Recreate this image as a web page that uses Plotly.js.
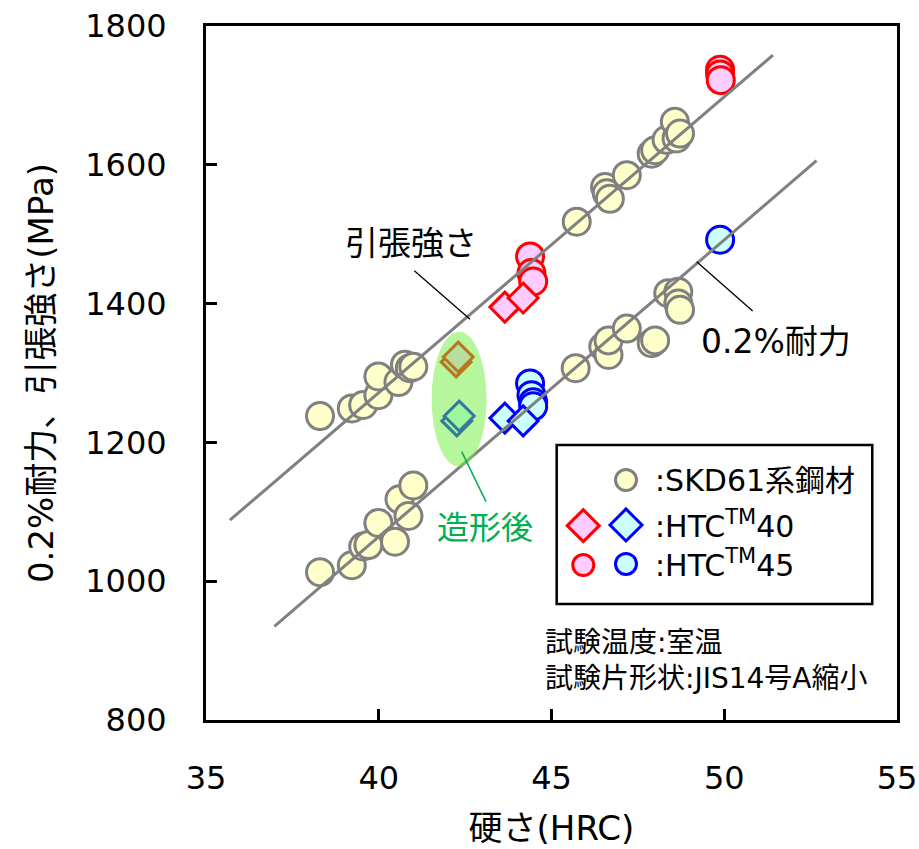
<!DOCTYPE html>
<html>
<head>
<meta charset="utf-8">
<script src="https://cdn.plot.ly/plotly-3.0.1.min.js"></script>
<style>html,body{margin:0;padding:0;background:#fff;}#chart{width:919px;height:849px;}</style>
</head>
<body>
<div id="chart"></div>
<script>
// ---- data (HRC vs MPa) ----
// SKD61-type steel, tensile strength
const skdTsX = [38.3, 39.22, 39.55, 39.99, 39.99, 40.57, 40.76, 40.9, 41.0, 45.73, 46.55, 46.6, 46.69, 47.18, 47.9, 48.0, 48.33, 48.57, 48.62, 48.72];
const skdTsY = [1238, 1249, 1254, 1268, 1295, 1287, 1312, 1307, 1309, 1518, 1568, 1559, 1551, 1585, 1616, 1621, 1636, 1662, 1638, 1645];
// SKD61-type steel, 0.2% proof stress
const skdYsX = [38.3, 39.22, 39.55, 39.7, 39.99, 40.47, 40.6, 40.86, 41.0, 45.7, 46.5, 46.65, 46.65, 47.18, 47.9, 48.0, 48.38, 48.67, 48.67, 48.72];
const skdYsY = [1013, 1023, 1050, 1052, 1084, 1057, 1118, 1094, 1138, 1307, 1338, 1326, 1347, 1364, 1343, 1347, 1415, 1417, 1400, 1391];
// HTC40
const htc40TsX = [43.65, 44.18];
const htc40TsY = [1395, 1408];
const htc40YsX = [43.65, 44.18];
const htc40YsY = [1235, 1231];
// HTC45
const htc45TsX = [44.38, 44.42, 44.47, 49.88, 49.88, 49.9];
const htc45TsY = [1468, 1444, 1432, 1737, 1730, 1722];
const htc45YsX = [44.38, 44.42, 44.47, 44.47, 49.88];
const htc45YsY = [1285, 1268, 1258, 1252, 1492];
// HTC40 as-built (造形後)
const amTsX = [42.24, 42.30];
const amTsY = [1316, 1323];
const amYsX = [42.26, 42.33];
const amYsY = [1231, 1238];
// trend lines
const fitTsX = [35.69, 51.41];
const fitTsY = [1088, 1758];
const fitYsX = [36.98, 52.67];
const fitYsY = [935, 1606];
// axis ticks
const xTicks = [35, 40, 45, 50, 55];
const yTicks = [800, 1000, 1200, 1400, 1600, 1800];
// legend labels
const legendLabels = [':SKD61系鋼材', ':HTC<sup>TM</sup>40', ':HTC<sup>TM</sup>45'];
const noteLabels = ['試験温度:室温', '試験片形状:JIS14号A縮小'];

// ---- styles ----
const FONT = 'DejaVu Sans, Noto Sans CJK JP, sans-serif';
const GRAY = '#808080';
const skdM = {symbol: 'circle', size: 27, color: '#FFFFCC', line: {color: GRAY, width: 3}};
const redD = {symbol: 'diamond', size: 23, color: '#FFCCFF', line: {color: '#FF0000', width: 3}};
const blueD = {symbol: 'diamond', size: 23, color: '#CCFFFF', line: {color: '#0000FF', width: 3}};
const redC = {symbol: 'circle', size: 27, color: '#FFCCFF', line: {color: '#FF0000', width: 3}};
const blueC = {symbol: 'circle', size: 27, color: '#CCFFFF', line: {color: '#0000FF', width: 3}};

function pts(x, y, marker) {
  return {x: x, y: y, type: 'scatter', mode: 'markers', marker: marker, hoverinfo: 'x+y', showlegend: false};
}
function fit(x, y) {
  return {x: x, y: y, type: 'scatter', mode: 'lines', line: {color: GRAY, width: 3}, hoverinfo: 'skip', showlegend: false};
}

const traces = [
  pts(skdTsX, skdTsY, skdM),
  pts(skdYsX, skdYsY, skdM),
  pts(htc45TsX, htc45TsY, redC),
  pts(htc45YsX, htc45YsY, blueC),
  pts(htc40TsX, htc40TsY, redD),
  pts(htc40YsX, htc40YsY, blueD),
  pts(amTsX, amTsY, redD),
  pts(amYsX, amYsY, blueD),
  fit(fitTsX, fitTsY),
  fit(fitYsX, fitYsY)
];

// ---- decorations (paper coords) ----
const shapes = [
  // green highlight ellipse over as-built points
  {type: 'circle', xref: 'x', yref: 'y', x0: 41.53, x1: 43.12, y0: 1165, y1: 1359.5,
   fillcolor: 'rgba(110,240,60,0.5)', line: {width: 0}, layer: 'above'},
  // leader lines
  {type: 'line', xref: 'paper', yref: 'paper', x0: 0.3015, y0: 0.6474, x1: 0.3821, y1: 0.5774, line: {color: '#000', width: 1.3}},
  {type: 'line', xref: 'paper', yref: 'paper', x0: 0.7101, y0: 0.6604, x1: 0.7911, y1: 0.5893, line: {color: '#000', width: 1.3}},
  {type: 'line', xref: 'paper', yref: 'paper', x0: 0.370, y0: 0.3866, x1: 0.4052, y1: 0.3146, line: {color: '#00B050', width: 1.5}},
  // legend frame
  {type: 'rect', xref: 'paper', yref: 'paper', x0: 0.5075, x1: 0.9642, y0: 0.1671, y1: 0.3963,
   line: {color: '#000', width: 2.5}, fillcolor: 'rgba(255,255,255,0)'}
];
const glyphs = [
  {cx: 0.6078, cy: 0.3458, kind: 'c', stroke: GRAY, fill: '#FFFFCC'},
  {cx: 0.546, cy: 0.2800, kind: 'd', stroke: '#FF0000', fill: '#FFCCFF'},
  {cx: 0.6078, cy: 0.2810, kind: 'd', stroke: '#0000FF', fill: '#CCFFFF'},
  {cx: 0.546, cy: 0.2233, kind: 'c', stroke: '#FF0000', fill: '#FFCCFF'},
  {cx: 0.6078, cy: 0.2248, kind: 'c', stroke: '#0000FF', fill: '#CCFFFF'}
];
glyphs.forEach(g => {
  const base = {xref: 'paper', yref: 'paper', xsizemode: 'pixel', ysizemode: 'pixel', xanchor: g.cx, yanchor: g.cy,
    fillcolor: g.fill, line: {color: g.stroke, width: 3}};
  if (g.kind === 'c') shapes.push(Object.assign({type: 'circle', x0: -10.5, x1: 10.5, y0: -10.5, y1: 10.5}, base));
  else shapes.push(Object.assign({type: 'path', path: 'M -16 0 L 0 16 L 16 0 L 0 -16 Z'}, base));
});

function note(x, y, text, size, color, anchor) {
  return {xref: 'paper', yref: 'paper', x: x, y: y, text: text, showarrow: false,
    xanchor: anchor, yanchor: 'middle', font: {family: FONT, size: size, color: color}};
}
const annotations = [
  note(0.296, 0.6873, '引張強さ', 33, '#000', 'center'),
  note(0.8246, 0.5461, '0.2%耐力', 33, '#000', 'center'),
  note(0.4038, 0.2767, '造形後', 32, '#00B050', 'center'),
  note(0.6469, 0.3458, legendLabels[0], 30, '#000', 'left'),
  note(0.6469, 0.2810, legendLabels[1], 30, '#000', 'left'),
  note(0.6469, 0.2248, legendLabels[2], 30, '#000', 'left'),
  note(0.4877, 0.111, noteLabels[0], 28, '#000', 'left'),
  note(0.4877, 0.0605, noteLabels[1], 28, '#000', 'left')
];

const layout = {
  width: 919, height: 849,
  margin: {l: 206, r: 22, t: 26, b: 129, pad: 0},
  paper_bgcolor: '#fff', plot_bgcolor: '#fff',
  showlegend: false,
  font: {family: FONT, color: '#000'},
  xaxis: {
    range: [35, 55], tickvals: xTicks, ticktext: xTicks.map(String),
    showgrid: false, zeroline: false,
    showline: true, linecolor: '#000', linewidth: 3, mirror: true,
    ticks: 'inside', ticklen: 11, tickwidth: 3, tickcolor: '#000',
    tickfont: {family: FONT, size: 32, color: '#000'}, ticklabelstandoff: 28,
    title: {text: '硬さ(HRC)', font: {family: FONT, size: 34, color: '#000'}, standoff: 20}
  },
  yaxis: {
    range: [800, 1800], tickvals: yTicks, ticktext: yTicks.map(String),
    showgrid: false, zeroline: false,
    showline: true, linecolor: '#000', linewidth: 3, mirror: true,
    ticks: 'inside', ticklen: 11, tickwidth: 3, tickcolor: '#000',
    tickfont: {family: FONT, size: 32, color: '#000'}, ticklabelstandoff: 30,
    title: {text: '0.2%耐力、引張強さ(MPa)', font: {family: FONT, size: 34, color: '#000'}, standoff: 22}
  },
  shapes: shapes,
  annotations: annotations
};

Plotly.newPlot('chart', traces, layout, {staticPlot: true, displayModeBar: false});
</script>
</body>
</html>
